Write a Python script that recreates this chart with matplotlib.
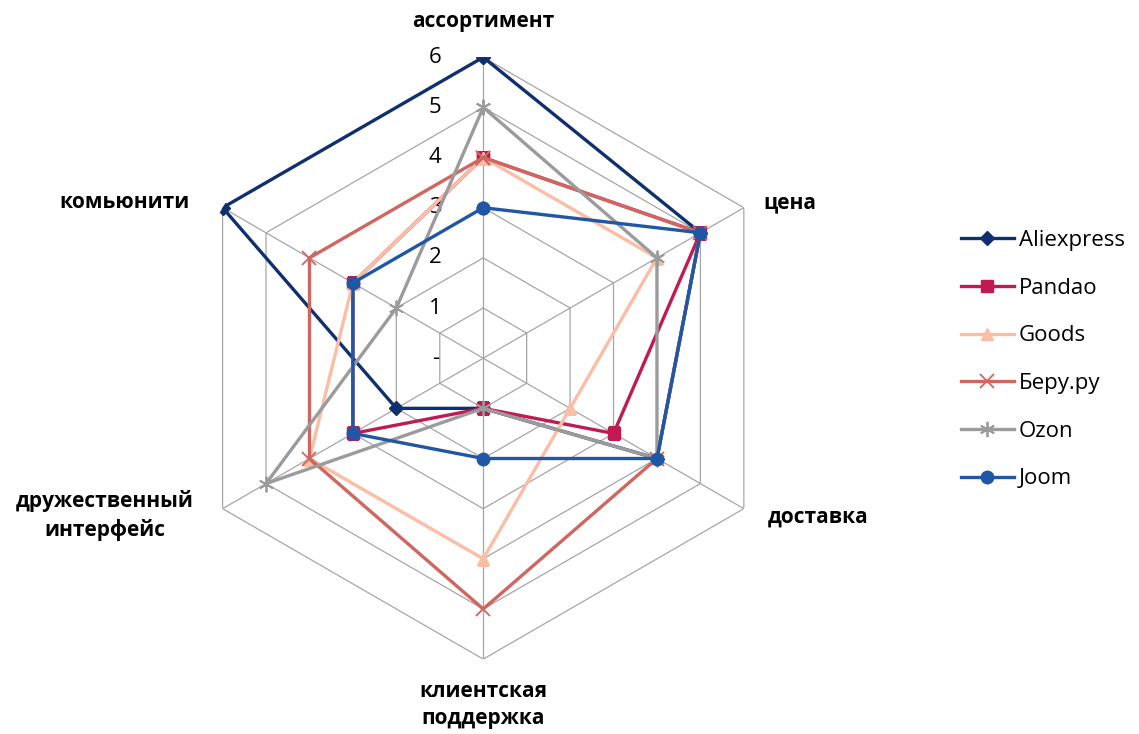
import matplotlib
matplotlib.use("Agg")
import matplotlib.pyplot as plt
import matplotlib.transforms as mtrans
import numpy as np

plt.rcParams['font.family'] = ['Open Sans', 'DejaVu Sans']

# categories clockwise from the top
categories = ['ассортимент', 'цена', 'доставка', 'клиентская\nподдержка',
              'дружественный\nинтерфейс', 'комьюнити']
series = ['Aliexpress', 'Pandao', 'Goods', 'Беру.ру', 'Ozon', 'Joom']
aliexpress = [6, 5, 4, 1, 2, 6]
pandao = [4, 5, 3, 1, 3, 3]
goods = [4, 4, 2, 4, 4, 3]
beru = [4, 5, 4, 5, 4, 4]
ozon = [5, 4, 4, 1, 5, 2]
joom = [3, 5, 4, 2, 3, 3]
tick_vals = [0, 1, 2, 3, 4, 5, 6]
tick_labels = ['-', '1', '2', '3', '4', '5', '6']

values = [aliexpress, pandao, goods, beru, ozon, joom]
colors = ['#0f2f6e', '#c21a50', '#fbbea4', '#d0665f', '#9b9b9d', '#1f57a6']
markers = ['D', 's', '^', 'x', (6, 2, 0), 'o']
msizes = [7, 8, 8, 10, 11, 9]

fig = plt.figure(figsize=(11.39, 7.34), dpi=100)
ax = fig.add_axes([0.160, 0.102, 0.5285, 0.820], projection='polar')
ax.set_theta_offset(np.pi / 2)
ax.set_theta_direction(-1)
ax.set_ylim(0, 6)
ax.grid(False)
ax.spines['polar'].set_visible(False)
ax.set_xticks([])
ax.set_yticks([])

n = len(categories)
theta = np.arange(n) * 2 * np.pi / n
theta_c = np.append(theta, theta[0])

# hexagonal grid
for r in tick_vals[1:]:
    ax.plot(theta_c, [r] * (n + 1), color='#a6a6a6', lw=0.9, zorder=1)
for t in theta:
    ax.plot([t, t], [0, 6], color='#a6a6a6', lw=0.9, zorder=1)

# radial tick labels left of the top spoke
off = mtrans.offset_copy(ax.transData, fig=fig, x=-48, y=0, units='dots')
for v, lab in zip(tick_vals, tick_labels):
    ax.text(0, v, lab, transform=off, ha='center', va='center', fontsize=16)

# category labels
lab_off = [(0, 36), (46, 5), (74, -8), (0, -46), (-118, -7), (-98, 5)]
for t, lab, (dx, dy) in zip(theta, categories, lab_off):
    tr = mtrans.offset_copy(ax.transData, fig=fig, x=dx, y=dy, units='dots')
    ax.text(t, 6, lab, transform=tr, ha='center', va='center', fontsize=15,
            fontweight='bold', linespacing=1.4)

for name, vals, c, m, ms in zip(series, values, colors, markers, msizes):
    ax.plot(theta_c, vals + vals[:1], color=c, lw=2.4, marker=m, markersize=ms,
            markeredgewidth=1.3 if m in ('x', (6, 2, 0)) else 1, label=name, zorder=3)

leg = fig.legend(loc='center left', bbox_to_anchor=(0.826, 0.51), frameon=False,
                 fontsize=16, labelspacing=1.2, handlelength=2.4, handletextpad=0.2)

fig.savefig('out.png', dpi=100)
